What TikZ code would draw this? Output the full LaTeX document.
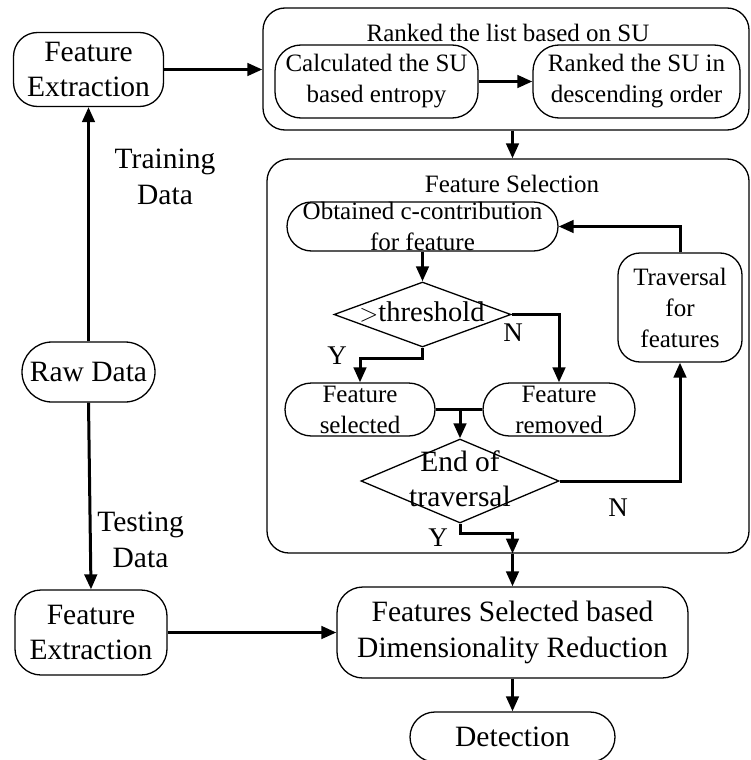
\documentclass[tikz,border=0pt]{standalone}
\usepackage{fontspec}
\setmainfont{Liberation Serif}
\usetikzlibrary{arrows.meta,shapes.geometric}
\newlength{\du}
\setlength{\du}{10pt}
\definecolor{dialinecolor}{rgb}{0.000000, 0.000000, 0.000000}
\tikzset{
  box/.style={draw=dialinecolor, line width=0.13\du, align=center, inner sep=0pt},
  decision/.style={draw=dialinecolor, diamond, line width=0.13\du, inner sep=0pt},
  bigtext/.style={font=\fontsize{29.5}{35.5}\selectfont, align=center},
  smalltext/.style={font=\fontsize{25}{31}\selectfont, align=center},
  yntext/.style={font=\fontsize{27}{32}\selectfont},
  conn/.style={draw=dialinecolor, line width=0.3\du, -{Triangle[length=15pt,width=12.5pt]}},
  link/.style={draw=dialinecolor, line width=0.3\du},
}

\begin{document}
\begin{tikzpicture}
\pgftransformxscale{1.000000}
\pgftransformyscale{-1.000000}
\useasboundingbox (0.000000\du,0.000000\du) rectangle (75.000000\du,76.000000\du);
% ranked list block
\node[box, minimum width=48.600000\du, minimum height=12.200000\du, rounded corners=2.200000\du] (rank) at (50.600000\du,6.900000\du) {};
\node[smalltext] (rankttl) at (50.800000\du,3.300000\du) {Ranked the list based on SU};
\node[box, smalltext, minimum width=20.300000\du, minimum height=7.300000\du, rounded corners=2.600000\du] (calc) at (37.650000\du,8.150000\du) {Calculated the SU\\based entropy};
\node[box, smalltext, minimum width=20.700000\du, minimum height=7.300000\du, rounded corners=2.600000\du] (rsu) at (63.650000\du,8.150000\du) {Ranked the SU in\\descending order};
% left column
\node[box, bigtext, minimum width=15.000000\du, minimum height=7.400000\du, rounded corners=2.400000\du] (fetop) at (8.850000\du,6.950000\du) {Feature\\Extraction};
\node[box, bigtext, minimum width=13.300000\du, minimum height=6.000000\du, rounded corners=3.000000\du] (raw) at (8.850000\du,37.200000\du) {Raw Data};
\node[bigtext] (trainlbl) at (16.500000\du,17.700000\du) {Training\\Data};
\node[bigtext] (testlbl) at (14.050000\du,54.000000\du) {Testing\\Data};
\node[box, bigtext, minimum width=15.200000\du, minimum height=8.500000\du, rounded corners=2.600000\du] (febot) at (9.100000\du,63.250000\du) {Feature\\Extraction};
% feature selection block
\node[box, minimum width=48.200000\du, minimum height=39.400000\du, rounded corners=2.200000\du] (fs) at (50.800000\du,35.600000\du) {};
\node[smalltext] (fsttl) at (51.200000\du,18.400000\du) {Feature Selection};
\node[box, minimum width=27.100000\du, minimum height=4.900000\du, rounded corners=2.450000\du] (obt) at (42.250000\du,22.650000\du) {};
\node[smalltext] (obttxt) at (obt.center) {Obtained c-contribution\\for feature};
\node[box, smalltext, minimum width=12.400000\du, minimum height=10.900000\du, rounded corners=2.200000\du] (trav) at (68.000000\du,30.750000\du) {Traversal\\for\\features};
\node[decision, minimum width=17.700000\du, minimum height=6.500000\du] (thr) at (42.250000\du,31.450000\du) {};
\node[font=\fontsize{28.5}{34}\selectfont] (thrtxt) at (42.200000\du,31.150000\du) {$>$threshold};
\node[box, smalltext, minimum width=15.000000\du, minimum height=5.300000\du, rounded corners=2.650000\du] (fsel) at (36.000000\du,40.950000\du) {Feature\\selected};
\node[box, smalltext, minimum width=15.200000\du, minimum height=5.300000\du, rounded corners=2.650000\du] (frem) at (55.900000\du,40.950000\du) {Feature\\removed};
\node[decision, minimum width=19.800000\du, minimum height=8.400000\du] (endt) at (46.000000\du,48.100000\du) {};
\node[bigtext] (endtxt) at (46.000000\du,47.900000\du) {End of\\traversal};
\node[yntext] (yup) at (33.700000\du,35.600000\du) {Y};
\node[yntext] (nup) at (51.300000\du,33.300000\du) {N};
\node[yntext] (ylow) at (43.800000\du,53.800000\du) {Y};
\node[yntext] (nlow) at (61.800000\du,50.800000\du) {N};
% output
\node[box, bigtext, minimum width=35.100000\du, minimum height=9.100000\du, rounded corners=2.600000\du] (fsdr) at (51.250000\du,63.250000\du) {Features Selected based\\Dimensionality Reduction};
\node[box, bigtext, minimum width=20.500000\du, minimum height=5.000000\du, rounded corners=2.500000\du] (det) at (51.250000\du,73.700000\du) {Detection};
% connectors
\draw[conn] (fetop.east) -- (fetop.east -| rank.west);
\draw[conn] (calc.east) -- (rsu.west);
\draw[conn] (rank.south -| fsdr.north) -- (fs.north -| fsdr.north);
\draw[conn] (raw.north) -- (fetop.south);
\draw[conn] (raw.south) -- (febot.north);
\draw[conn] (febot.east) -- (febot.east -| fsdr.west);
\draw[conn] (obt.south) -- (thr.north);
\draw[conn] (thr.east) -| (frem.north);
\draw[conn] (thr.south) -- ++(0,1.100000\du) -| (fsel.north);
\draw[link] (fsel.east) -- (frem.west);
\draw[conn] (fsel.east -| endt.north) -- (endt.north);
\draw[conn] (endt.east) -| (trav.south);
\draw[conn] (trav.north) |- (obt.east);
\draw[conn] (endt.south) -- ++(0,1.000000\du) -| (fs.south -| fsdr.north);
\draw[conn] (fs.south -| fsdr.north) -- (fsdr.north);
\draw[conn] (fsdr.south) -- (det.north);
\end{tikzpicture}
\end{document}
